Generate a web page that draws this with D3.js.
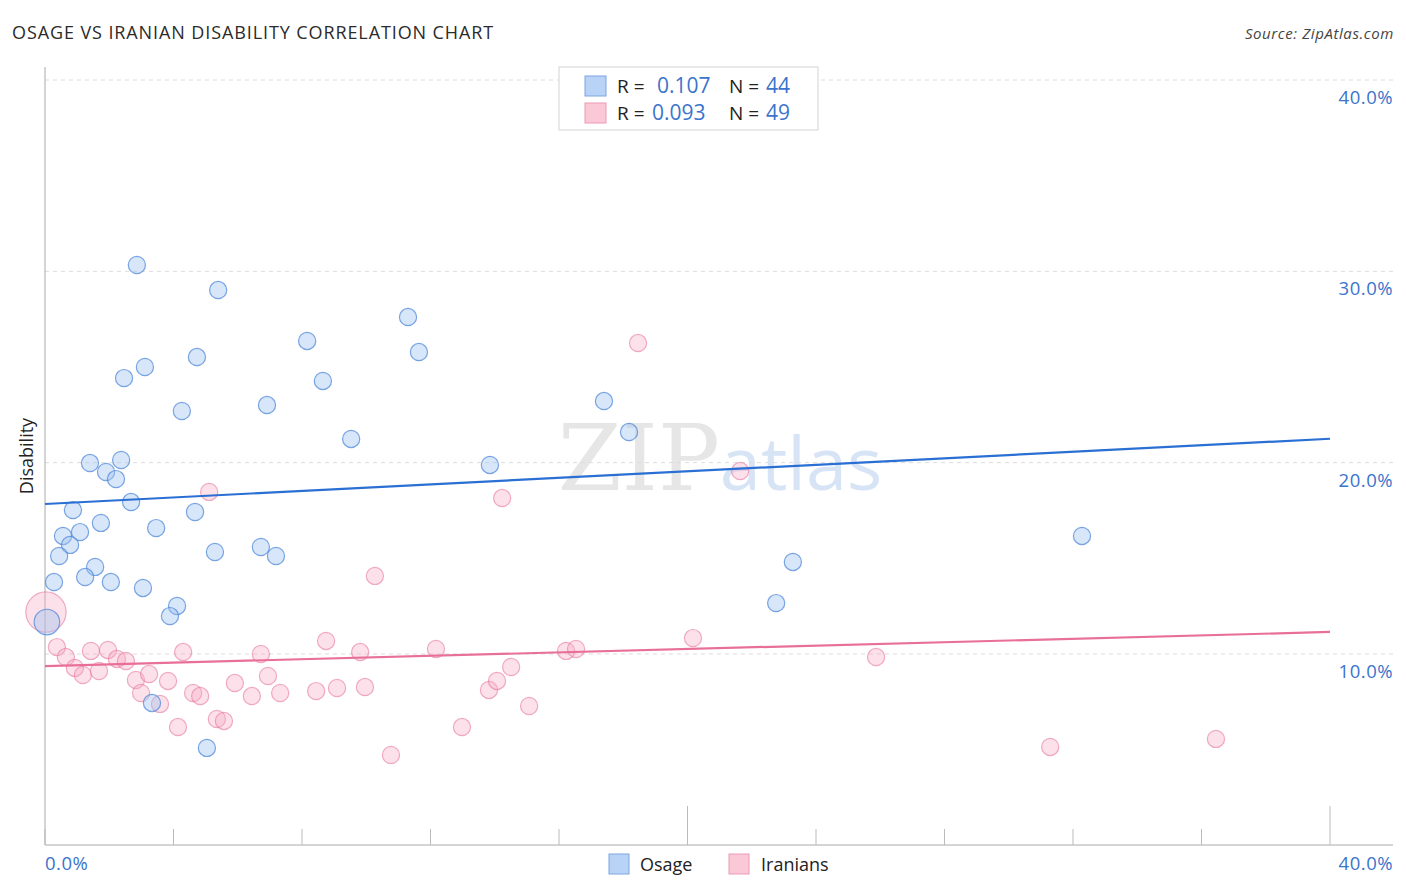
<!DOCTYPE html>
<html>
<head>
<meta charset="utf-8">
<script src="https://cdn.jsdelivr.net/npm/d3@7.9.0/dist/d3.min.js"></script>
<style>
  body { margin: 0; background: #fff; }
  svg text { font-family: "Open Sans", "Noto Sans", sans-serif; }
</style>
</head>
<body>
<div id="chart"></div>
<script>
// ---------- data (percent values) ----------
const osageX = [2.86, 5.39, 11.30, 8.16, 11.64, 4.73, 3.11, 2.46, 8.65, 4.26, 6.91, 17.40, 9.53, 18.18, 13.85,
  1.40, 2.37, 1.90, 2.21, 2.68, 0.87, 4.67, 1.74, 3.46, 0.56, 1.09, 0.78, 6.72, 32.28, 5.29, 7.19, 0.44, 23.28,
  1.56, 1.25, 2.05, 0.28, 3.05, 22.76, 4.11, 3.89, 0.06, 3.33, 5.04];
const osageY = [30.33, 29.02, 27.61, 26.36, 25.78, 25.52, 25.00, 24.42, 24.27, 22.70, 23.01, 23.22, 21.24, 21.60, 19.88,
  19.98, 20.14, 19.51, 19.14, 17.94, 17.52, 17.42, 16.85, 16.58, 16.17, 16.37, 15.70, 15.59, 16.17, 15.33, 15.12, 15.12, 14.81,
  14.55, 14.02, 13.76, 13.76, 13.45, 12.66, 12.51, 11.98, 11.67, 7.44, 5.09];
const osageW = osageX.map((d, i) => i === 41 ? 2.2 : 1);

const iranX = [18.46, 5.11, 21.64, 14.23, 10.27, 0.03, 0.37, 0.65, 0.93, 1.18, 1.43, 1.68, 1.96, 2.24, 2.52,
  2.83, 3.24, 2.99, 3.83, 4.30, 3.58, 4.61, 4.83, 4.14, 5.35, 5.57, 5.91, 6.44, 6.72, 6.94, 7.32, 8.44, 8.75,
  9.09, 9.81, 9.96, 10.77, 12.17, 12.98, 13.82, 14.07, 14.51, 15.07, 16.22, 16.53, 20.17, 25.87, 31.29, 36.45];
const iranY = [26.25, 18.47, 19.56, 18.15, 14.08, 12.19, 10.36, 9.84, 9.27, 8.90, 10.16, 9.11, 10.21, 9.74, 9.63,
  8.64, 8.95, 7.96, 8.59, 10.10, 7.39, 7.96, 7.80, 6.18, 6.60, 6.50, 8.48, 7.80, 10.00, 8.85, 7.96, 8.06, 10.68,
  8.22, 10.10, 8.27, 4.72, 10.26, 6.18, 8.12, 8.59, 9.32, 7.28, 10.16, 10.26, 10.83, 9.84, 5.14, 5.56];
const iranW = iranX.map((d, i) => i === 5 ? 5.5 : 1);

// trend line ends at x = 0% and x = 40%
const osageTrend = [17.84, 21.25];
const iranTrend = [9.37, 11.15];

const yTicks = [10, 20, 30, 40];
const xTicks = d3.range(0, 41, 4);
const seriesNames = ["Osage", "Iranians"];
const statsR = ["0.107", "0.093"];
const statsN = ["44", "49"];

// ---------- layout ----------
const width = 1406, height = 892;
const blue = "#3a74cc", blueLine = "#2a6fd4", pinkLine = "#e86f98";

const svg = d3.select("#chart").append("svg")
  .attr("width", width).attr("height", height);

const x = d3.scaleLinear().domain([0, 40]).range([45, 1330]);
const y = d3.scaleLinear().domain([0, 40]).range([845.3, 80]);
const r = d3.scaleSqrt().domain([0, 1]).range([0, 8.6]);

// title + source
svg.append("text").attr("x", 12).attr("y", 39)
  .attr("font-size", 18).attr("letter-spacing", 0.9).attr("fill", "#2b2b2b")
  .text("OSAGE VS IRANIAN DISABILITY CORRELATION CHART");
svg.append("text").attr("x", 1394).attr("y", 39)
  .attr("text-anchor", "end").attr("font-size", 15).attr("letter-spacing", 0.6)
  .attr("font-style", "italic").attr("fill", "#444")
  .text("Source: ZipAtlas.com");

// watermark
const wm = svg.append("text").attr("x", 720).attr("y", 490).attr("text-anchor", "middle").attr("opacity", 0.35);
wm.append("tspan").attr("font-family", "DejaVu Serif, serif").attr("font-size", 92).attr("fill", "#b9b9b9").text("ZIP");
wm.append("tspan").attr("font-family", "Open Sans, sans-serif").attr("font-size", 74).attr("fill", "#8fb3e6").text("atlas");

// gridlines
svg.append("g").selectAll("line").data(yTicks).join("line")
  .attr("x1", 45).attr("x2", 1393)
  .attr("y1", d => y(d)).attr("y2", d => y(d))
  .attr("stroke", "#dcdcdc").attr("stroke-dasharray", "4,4");

// y tick labels on right
svg.append("g").selectAll("text").data(yTicks).join("text")
  .attr("x", 1393).attr("y", d => y(d) + 24)
  .attr("text-anchor", "end").attr("font-size", 18.5).attr("letter-spacing", 0.5).attr("fill", blue)
  .text(d => d3.format(".1f")(d) + "%");

// axes
svg.append("line").attr("x1", 45).attr("x2", 45).attr("y1", 67).attr("y2", 845).attr("stroke", "#aaa");
svg.append("line").attr("x1", 45).attr("x2", 1393).attr("y1", 845).attr("y2", 845).attr("stroke", "#aaa");
svg.append("g").selectAll("line").data(xTicks).join("line")
  .attr("x1", d => x(d)).attr("x2", d => x(d))
  .attr("y1", d => (d === 20 || d === 40) ? 806 : 829).attr("y2", 845)
  .attr("stroke", "#bbb");

svg.append("text").attr("x", 45).attr("y", 870).attr("font-size", 18.5).attr("letter-spacing", 0.5)
  .attr("fill", blue).text("0.0%");
svg.append("text").attr("x", 1393).attr("y", 870).attr("text-anchor", "end")
  .attr("font-size", 18.5).attr("letter-spacing", 0.5).attr("fill", blue).text("40.0%");

svg.append("text").attr("transform", "translate(33,456) rotate(-90)")
  .attr("text-anchor", "middle").attr("font-size", 18).attr("fill", "#222").text("Disability");

// points
function drawPoints(xs, ys, ws, fill, stroke) {
  svg.append("g").selectAll("circle").data(xs.map((d, i) => ({ x: d, y: ys[i], w: ws[i] })))
    .join("circle")
    .attr("cx", d => x(d.x)).attr("cy", d => y(d.y)).attr("r", d => r(d.w))
    .attr("fill", fill).attr("stroke", stroke).attr("stroke-width", 1.2);
}
drawPoints(iranX, iranY, iranW, "rgba(245,170,195,0.35)", "rgba(230,120,160,0.6)");
drawPoints(osageX, osageY, osageW, "rgba(160,195,240,0.42)", "rgba(70,130,215,0.7)");

// trend lines
const line = d3.line().x(d => x(d[0])).y(d => y(d[1]));
svg.append("path").attr("d", line([[0, osageTrend[0]], [40, osageTrend[1]]]))
  .attr("stroke", blueLine).attr("stroke-width", 2.2).attr("fill", "none");
svg.append("path").attr("d", line([[0, iranTrend[0]], [40, iranTrend[1]]]))
  .attr("stroke", pinkLine).attr("stroke-width", 2.2).attr("fill", "none");

// top legend
const sqFill = ["#b9d3f6", "#fbc8d7"], sqStroke = ["#7aa6e2", "#eb9ab5"];
svg.append("rect").attr("x", 559).attr("y", 67).attr("width", 259).attr("height", 63)
  .attr("fill", "#fff").attr("stroke", "#d4d4d4");
seriesNames.forEach((s, i) => {
  const cy = 86 + i * 27;
  svg.append("rect").attr("x", 585).attr("y", cy - 10).attr("width", 21).attr("height", 20)
    .attr("fill", sqFill[i]).attr("stroke", sqStroke[i]);
  svg.append("text").attr("x", 617).attr("y", cy + 7).attr("font-size", 19).attr("fill", "#222").text("R =");
  svg.append("text").attr("x", i === 0 ? 657 : 652).attr("y", cy + 7).attr("font-size", 21).attr("fill", blue).text(statsR[i]);
  svg.append("text").attr("x", 729).attr("y", cy + 7).attr("font-size", 19).attr("fill", "#222").text("N =");
  svg.append("text").attr("x", 766).attr("y", cy + 7).attr("font-size", 21).attr("fill", blue).text(statsN[i]);
});

// bottom legend
const legX = [609, 729], legTx = [640, 761];
seriesNames.forEach((s, i) => {
  svg.append("rect").attr("x", legX[i]).attr("y", 854).attr("width", 20).attr("height", 20)
    .attr("fill", sqFill[i]).attr("stroke", sqStroke[i]);
  svg.append("text").attr("x", legTx[i]).attr("y", 871).attr("font-size", 18).attr("fill", "#222").text(s);
});
</script>
</body>
</html>
